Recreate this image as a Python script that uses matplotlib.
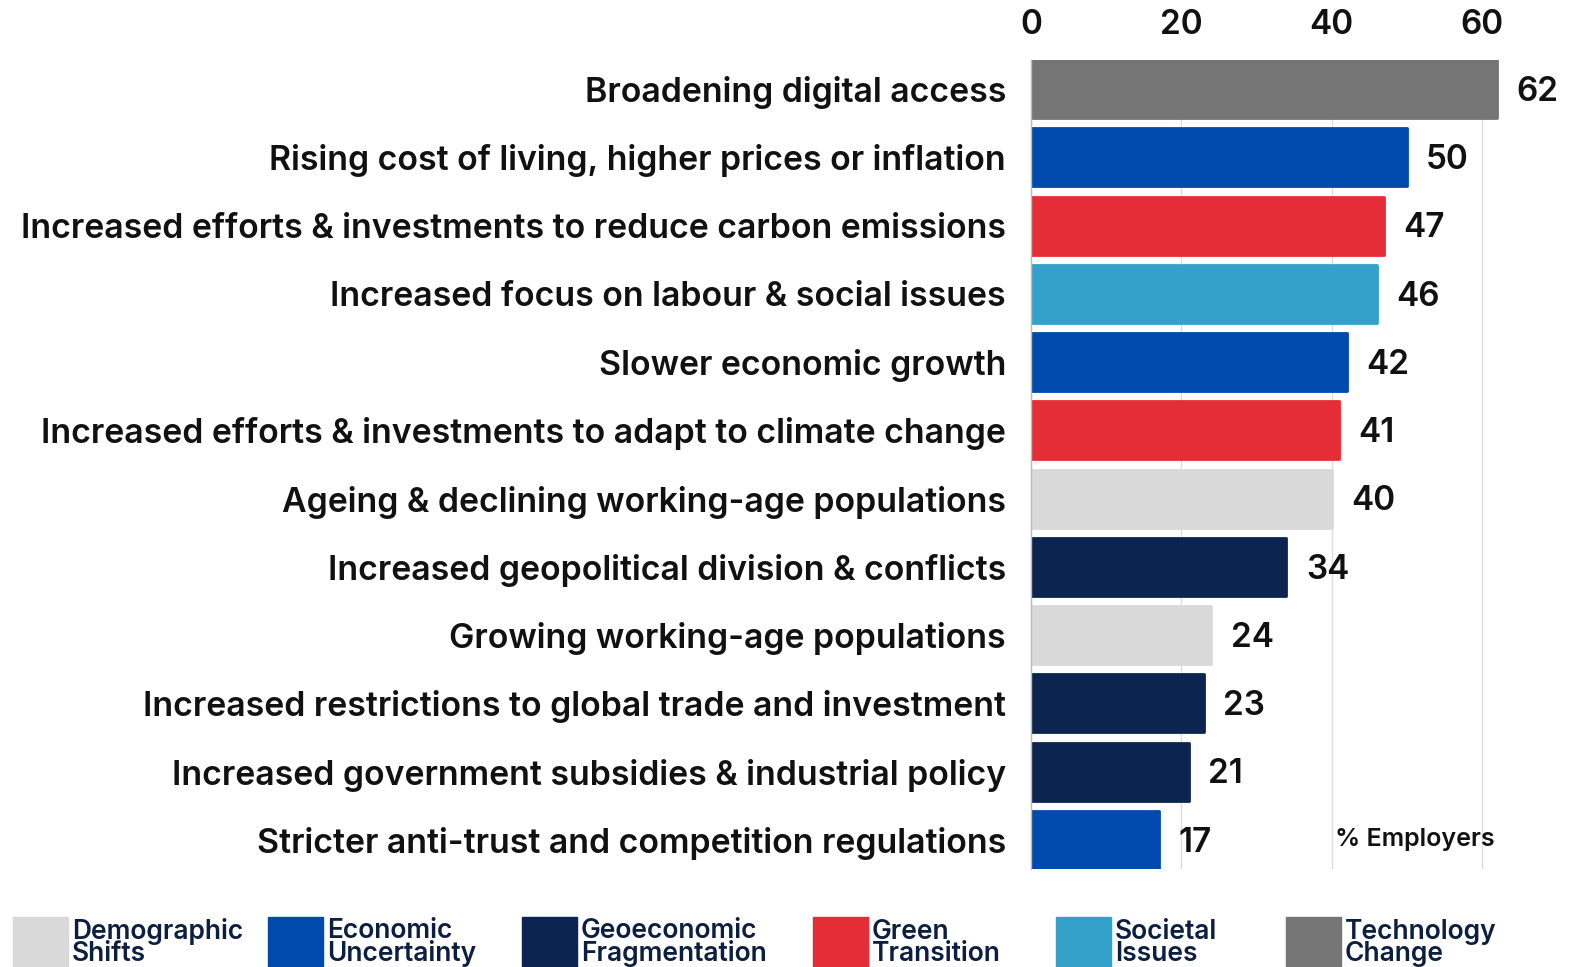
import matplotlib
matplotlib.use("Agg")
import matplotlib.pyplot as plt
from matplotlib.patches import Rectangle

categories = [
    "Broadening digital access",
    "Rising cost of living, higher prices or inflation",
    "Increased efforts & investments to reduce carbon emissions",
    "Increased focus on labour & social issues",
    "Slower economic growth",
    "Increased efforts & investments to adapt to climate change",
    "Ageing & declining working-age populations",
    "Increased geopolitical division & conflicts",
    "Growing working-age populations",
    "Increased restrictions to global trade and investment",
    "Increased government subsidies & industrial policy",
    "Stricter anti-trust and competition regulations",
]
values = [62, 50, 47, 46, 42, 41, 40, 34, 24, 23, 21, 17]
groups = ["Technology", "Economic", "Green", "Societal", "Economic", "Green",
          "Demographic", "Geoeconomic", "Demographic", "Geoeconomic", "Geoeconomic", "Economic"]
xticks = [0, 20, 40, 60]

legend_keys = ["Demographic", "Economic", "Geoeconomic", "Green", "Societal", "Technology"]
legend_labels = ["Demographic\nShifts", "Economic\nUncertainty",
                 "Geoeconomic\nFragmentation", "Green\nTransition",
                 "Societal\nIssues", "Technology\nChange"]
colors = {
    "Demographic": "#d9d9d9",
    "Economic": "#004aad",
    "Geoeconomic": "#0c2550",
    "Green": "#e52d37",
    "Societal": "#33a1c9",
    "Technology": "#757575",
}

W, H = 1572, 967
FONT = ['Inter', 'DejaVu Sans']
WEIGHT = 'semibold'
plt.rcParams['font.family'] = FONT
fig = plt.figure(figsize=(W / 100, H / 100), dpi=100)
ax = fig.add_axes([1031 / W, 1 - 869 / H, (1557 - 1031) / W, (869 - 60) / H])

ypos = list(range(len(categories)))
bar_colors = [colors[g] for g in groups]
bars = ax.barh(ypos, values, height=0.85, color=bar_colors, edgecolor=bar_colors,
               linewidth=2, zorder=3)
for b in bars:
    b.set_joinstyle('round')
ax.set_ylim(len(categories) - 1 + 0.425, -0.425)
ax.set_xlim(0, 70)

ax.set_yticks(ypos)
ax.set_yticklabels(categories, fontsize=24.4, fontweight=WEIGHT, color='#111111')
ax.tick_params(axis='y', length=0, pad=18)
ax.set_xticks(xticks)
ax.xaxis.tick_top()
ax.tick_params(axis='x', length=0, pad=14, labelsize=24, labelcolor='#111111')
for lbl in ax.get_xticklabels():
    lbl.set_fontweight(WEIGHT)

ax.grid(axis='x', color='#dddddd', linewidth=1, zorder=0)
for s in ['top', 'right', 'bottom']:
    ax.spines[s].set_visible(False)
ax.spines['left'].set_color('#bbbbbb')
ax.spines['left'].set_linewidth(1)
ax.spines['left'].set_zorder(4)

for b, v in zip(bars, values):
    ax.annotate(str(v), xy=(v, b.get_y() + b.get_height() / 2), xytext=(14, -2),
                textcoords='offset points', ha='left', va='center',
                fontsize=24, fontweight=WEIGHT, color='#111111')

ax.text(40.4, len(categories) - 1, "% Employers", ha='left', va='center',
        fontsize=18, fontweight=WEIGHT, color='#111111')

# legend
leg_x = [13, 268, 522, 813, 1056, 1286]
for x0, key, lab in zip(leg_x, legend_keys, legend_labels):
    fig.patches.append(Rectangle((x0 / W, 0), 55 / W, (H - 917) / H,
                                 transform=fig.transFigure, color=colors[key]))
    fig.text((x0 + 59) / W, 1 - 967 / H, lab, ha='left', va='bottom',
             fontsize=19, fontweight=WEIGHT, color='#0d1f40', linespacing=0.8)

fig.savefig("out.png", dpi=100)
